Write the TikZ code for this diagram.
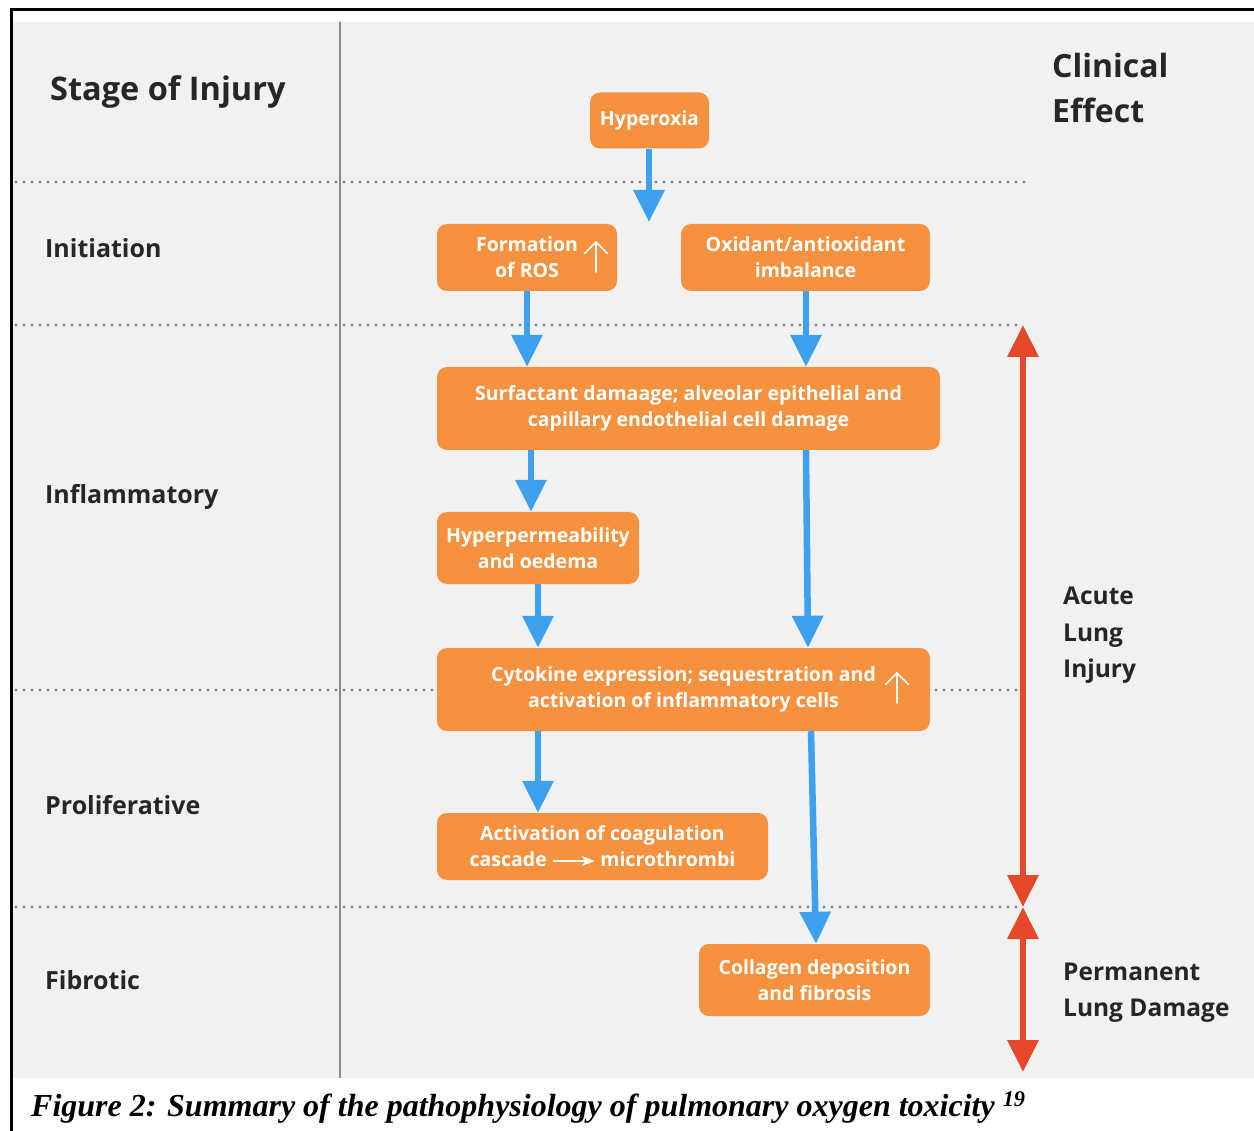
\documentclass[tikz,border=0pt]{standalone}
\usepackage{fontspec}
\setmainfont{Open Sans}
\newfontfamily\capfont{Liberation Serif}
\usetikzlibrary{arrows.meta,calc}
\definecolor{bg}{HTML}{F1F1F1}
\definecolor{boxor}{HTML}{F5913F}
\definecolor{arrblue}{HTML}{3DA1EF}
\definecolor{arrred}{HTML}{E8482A}
\definecolor{dotgray}{HTML}{858585}
\definecolor{linegray}{HTML}{8A8A8A}
\definecolor{labtext}{HTML}{262626}
\begin{document}
\begin{tikzpicture}[x=1pt,y=-1pt,
  stepbox/.style={rectangle, rounded corners=10pt, fill=boxor, draw=none,
    text=white, align=center, inner sep=0pt,
    font=\bfseries\fontsize{19.5}{26}\selectfont},
  flow/.style={draw=arrblue, line width=6.5pt,
    -{Triangle[length=32pt,width=30pt]}},
  redarr/.style={draw=arrred, line width=6.5pt,
    {Triangle[length=32pt,width=30pt]}-{Triangle[length=32pt,width=30pt]}},
  dotline/.style={draw=dotgray, line width=3.2pt, line cap=round,
    dash pattern=on 0pt off 8pt},
  biglab/.style={anchor=base west, inner sep=0pt, text=labtext,
    font=\bfseries\fontsize{32.5}{40}\selectfont},
  stagelab/.style={anchor=base west, inner sep=0pt, text=labtext,
    font=\bfseries\fontsize{25}{30}\selectfont},
  effectlab/.style={anchor=base west, inner sep=0pt, text=labtext,
    font=\bfseries\fontsize{24.5}{30}\selectfont},
  uparr/.style={draw=white, line width=1.6pt, line cap=round, line join=round}
]
\useasboundingbox (0,0) rectangle (1254,1131);
\fill[white] (0,0) rectangle (1254,1131);
% frame and background
\fill[bg] (13,22) rectangle (1254,1078);
\draw[black, line width=2.5pt] (11.3,1131) -- (11.3,9.3) -- (1254,9.3);
\draw[linegray, line width=1.6pt] (340,22) -- (340,1078);
% dotted separators
\draw[dotline] (16,182) -- (1027,182);
\draw[dotline] (16,325) -- (1020,325);
\draw[dotline] (16,690) -- (1020,690);
\draw[dotline] (16,907) -- (1020,907);

% headings
\node[biglab] (stage) at (50,101) {Stage of Injury};
\node[biglab, font=\bfseries\fontsize{32}{40}\selectfont] (clin1) at (1052,78) {Clinical};
\node[biglab, font=\bfseries\fontsize{32}{40}\selectfont] (clin2) at (1052,123) {Effect};

% stage labels
\node[stagelab] (init) at (45,258) {Initiation};
\node[stagelab] (infl) at (45,503.5) {Inflammatory};
\node[stagelab] (prol) at (45,814.5) {Proliferative};
\node[stagelab] (fibr) at (45,989.5) {Fibrotic};

% effect labels
\node[effectlab] (ali1) at (1063,605) {Acute};
\node[effectlab] (ali2) at (1063,641) {Lung};
\node[effectlab] (ali3) at (1063,677) {Injury};
\node[effectlab] (pld1) at (1063,980) {Permanent};
\node[effectlab] (pld2) at (1063,1016) {Lung Damage};

% boxes
\node[stepbox, minimum width=119pt, minimum height=56pt] (hyper) at (649.5,120.5) {Hyperoxia};
\node[stepbox, minimum width=180pt, minimum height=67pt] (ros) at (527,257.5) {Formation\\of ROS};
\node[stepbox, minimum width=249pt, minimum height=67pt] (oxi) at (805.5,257.5) {Oxidant/antioxidant\\imbalance};
\node[stepbox, minimum width=503pt, minimum height=83pt] (surf) at (688.5,408.5) {Surfactant damaage; alveolar epithelial and\\capillary endothelial cell damage};
\node[stepbox, minimum width=202pt, minimum height=72pt] (hyperm) at (538,548) {Hyperpermeability\\and oedema};
\node[stepbox, minimum width=493pt, minimum height=83pt] (cyto) at (683.5,689.5) {Cytokine expression; sequestration and\\activation of inflammatory cells};
\node[stepbox, minimum width=331pt, minimum height=67pt] (coag) at (602.5,846.5) {Activation of coagulation\\cascade \tikz[baseline]{\draw[white, line width=1.5pt, -{Stealth[length=13pt,width=10pt]}] (0pt,0.3em) -- (2.15em,0.3em);} microthrombi};
\node[stepbox, minimum width=231pt, minimum height=72pt] (coll) at (814.5,980) {Collagen deposition\\and fibrosis};

% small up arrows inside boxes
\draw[uparr] (596,272) -- (596,242);
\draw[uparr] (584.5,253.5) -- (596,242) -- (607.5,253.5);
\draw[uparr] (897,703) -- (897,673);
\draw[uparr] (885.5,684.5) -- (897,673) -- (908.5,684.5);

% blue flow arrows
\coordinate (hyperend) at (649,222);
\draw[flow] (hyper.south -| hyperend) -- (hyperend);
\draw[flow] (ros.south) -- (ros.south |- surf.north);
\draw[flow] (806,0 |- oxi.south) -- (806,0 |- surf.north);
\draw[flow] (531,0 |- surf.south) -- (531,0 |- hyperm.north);
\draw[flow] (806,0 |- surf.south) -- (808,0 |- cyto.north);
\draw[flow] (hyperm.south) -- (hyperm.south |- cyto.north);
\draw[flow] (538,0 |- cyto.south) -- (538,0 |- coag.north);
\draw[flow] (811,0 |- cyto.south) -- (816,0 |- coll.north);

% red range arrows
\coordinate (alitop) at (1023,325);
\coordinate (alibot) at (1023,907);
\coordinate (pldbot) at (1023,1072);
\draw[redarr] (alitop) -- (alibot);
\draw[redarr] (alibot) -- (pldbot);

% caption
\node[anchor=base west, inner sep=0pt, font=\capfont\bfseries\itshape\fontsize{32}{38}\selectfont] (caption) at (31,1116) {Figure 2: Summary of the pathophysiology of pulmonary oxygen toxicity \textsuperscript{19}};
\end{tikzpicture}
\end{document}
